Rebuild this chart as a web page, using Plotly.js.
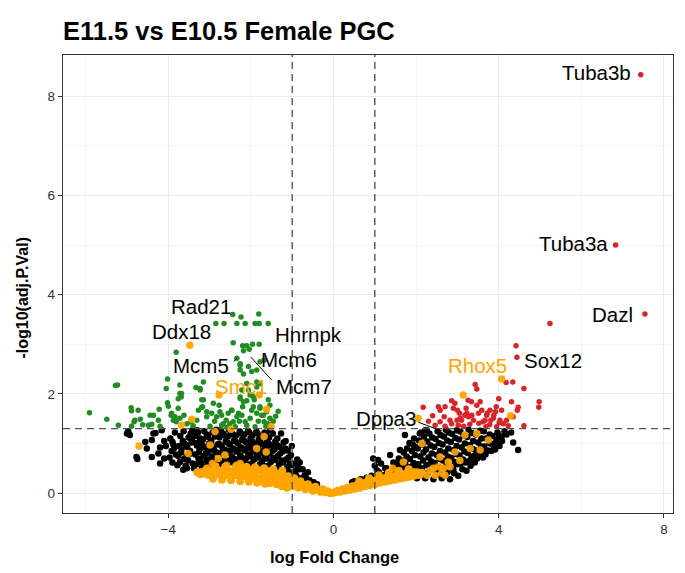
<!DOCTYPE html>
<html><head><meta charset="utf-8">
<script src="https://cdn.plot.ly/plotly-3.0.1.min.js"></script>
<style>html,body{margin:0;padding:0;background:#fff}#plot{width:685px;height:573px}</style>
</head><body><div id="plot"></div>
<script>
// ---- data (log fold change, -log10 adj.P) ----
const blackPts = [
[-5.00,1.20],[-4.97,1.25],[-4.93,1.17],[-4.77,0.73],[-4.75,0.69],[-4.56,1.03],[-4.52,0.90],[-4.40,1.07],[-4.40,0.73],[-4.36,1.20],[-4.31,1.21],[-4.24,0.80],[-4.20,0.60],[-4.20,0.92],[-4.16,1.27],[-4.10,1.05],[-4.06,0.95],[-4.10,0.70],
[-3.97,0.72],[-3.92,0.85],[-3.88,0.98],[-3.95,1.10],[-3.84,1.22],[-3.82,0.78],[-3.90,1.03],[-3.86,0.91],
[-3.78,0.56],[-3.72,0.63],[-3.76,0.75],[-3.68,0.88],[-3.74,0.95],[-3.65,1.05],[-3.71,1.15],[-3.63,1.25],[-3.64,0.47],[-3.62,0.69],[-3.69,0.82],[-3.61,1.00],
[-3.58,0.55],[-3.52,0.66],[-3.56,0.74],[-3.47,0.85],[-3.54,0.93],[-3.44,1.02],[-3.51,1.12],[-3.46,1.20],[-3.42,1.27],[-3.41,0.60],[-3.49,0.79],[-3.57,0.97],[-3.43,1.08],
[-3.38,0.50],[-3.32,0.58],[-3.27,0.70],[-3.35,0.78],[-3.24,0.88],[-3.31,0.96],[-3.22,1.05],[-3.36,1.15],[-3.28,1.22],[-3.21,0.63],[-3.26,0.83],[-3.33,1.01],[-3.23,1.10],[-3.30,1.27],
[-3.18,0.52],[-3.12,0.60],[-3.06,0.68],[-3.15,0.75],[-3.03,0.85],[-3.11,0.92],[-3.01,1.00],[-3.16,1.08],[-3.07,1.18],[-3.13,1.25],[-3.02,0.64],[-3.09,0.80],[-3.17,0.96],[-3.04,1.13],
[-2.98,0.50],[-2.92,0.58],[-2.86,0.66],[-2.95,0.74],[-2.83,0.82],[-2.91,0.90],[-2.81,0.98],[-2.96,1.06],[-2.87,1.14],[-2.93,1.22],[-2.84,1.28],[-2.82,0.62],[-2.89,0.86],[-2.97,1.02],[-2.81,1.18],
[-2.78,0.55],[-2.72,0.63],[-2.66,0.72],[-2.75,0.80],[-2.63,0.88],[-2.71,0.95],[-2.61,1.04],[-2.76,1.12],[-2.67,1.20],[-2.73,1.27],[-2.62,0.67],[-2.69,0.84],[-2.77,0.99],[-2.64,1.16],
[-2.58,0.58],[-2.52,0.66],[-2.46,0.74],[-2.55,0.82],[-2.43,0.90],[-2.51,0.98],[-2.41,1.06],[-2.56,1.14],[-2.47,1.22],[-2.53,1.28],[-2.42,0.70],[-2.49,0.86],[-2.57,1.02],[-2.44,1.18],
[-2.38,0.60],[-2.32,0.68],[-2.26,0.76],[-2.35,0.84],[-2.23,0.92],[-2.31,1.00],[-2.21,1.08],[-2.36,1.16],[-2.27,1.24],[-2.22,0.72],[-2.29,0.88],[-2.37,1.04],[-2.24,1.20],
[-2.18,0.62],[-2.12,0.70],[-2.06,0.78],[-2.15,0.86],[-2.03,0.94],[-2.11,1.02],[-2.01,1.10],[-2.16,1.18],[-2.07,1.26],[-2.02,0.74],[-2.09,0.90],[-2.17,1.06],[-2.04,1.22],
[-1.98,0.60],[-1.92,0.68],[-1.86,0.76],[-1.95,0.84],[-1.83,0.92],[-1.91,1.00],[-1.81,1.08],[-1.96,1.16],[-1.87,1.24],[-1.82,0.72],[-1.89,0.88],[-1.97,1.04],[-1.84,1.20],
[-1.78,0.58],[-1.72,0.66],[-1.66,0.74],[-1.75,0.82],[-1.63,0.90],[-1.71,0.98],[-1.61,1.06],[-1.76,1.14],[-1.67,1.22],[-1.62,0.70],[-1.69,0.86],[-1.77,1.02],[-1.64,1.18],
[-1.58,0.55],[-1.52,0.63],[-1.46,0.71],[-1.55,0.80],[-1.43,0.88],[-1.51,0.96],[-1.41,1.04],[-1.56,1.12],[-1.47,1.20],[-1.53,1.27],[-1.42,0.67],[-1.49,0.84],[-1.57,1.00],
[-1.38,0.50],[-1.32,0.58],[-1.26,0.66],[-1.35,0.75],[-1.23,0.84],[-1.31,0.93],[-1.21,1.02],[-1.36,1.10],[-1.27,1.20],[-1.22,0.62],[-1.29,0.80],[-1.37,0.97],
[-1.18,0.45],[-1.12,0.52],[-1.06,0.60],[-1.15,0.68],[-1.03,0.77],[-1.11,0.86],[-1.01,0.95],[-1.16,1.05],[-1.02,0.56],[-1.09,0.72],[-1.17,0.90],
[-0.98,0.38],[-0.92,0.45],[-0.86,0.52],[-0.95,0.60],[-0.83,0.48],[-0.90,0.35],[-0.88,0.68],[-0.82,0.62],
[-0.78,0.30],[-0.70,0.36],[-0.62,0.42],[-0.66,0.30],[-0.58,0.26],[-0.48,0.22],[-0.40,0.18],
[0.45,0.22],[0.62,0.25],[0.76,0.21],[0.86,0.28],[0.96,0.70],[1.00,0.55],[1.05,0.46],[1.08,0.67],[1.15,0.60],[1.25,0.50],[1.37,0.77],[1.30,0.42],[4.47,0.87],[4.07,1.14],[4.19,1.18],[4.35,1.02],[4.30,1.22],[1.73,1.17],[1.61,0.87],[1.93,0.97],[2.09,1.20],[2.22,1.27],[3.99,1.10],[1.20,0.36],[1.45,0.62],
[0.50,0.24],[0.66,0.28],[0.80,0.31],[0.92,0.35],[1.10,0.42],[1.28,0.50],
[1.42,0.40],[1.48,0.50],[1.55,0.58],[1.58,0.70],[1.52,0.45],
[1.62,0.42],[1.68,0.50],[1.74,0.58],[1.65,0.66],[1.77,0.74],[1.70,0.82],[1.78,0.90],[1.63,0.55],
[1.82,0.45],[1.88,0.53],[1.94,0.61],[1.85,0.69],[1.97,0.77],[1.90,0.85],[1.98,0.93],[1.84,1.01],[1.95,1.10],[1.92,0.48],
[2.02,0.30],[2.08,0.42],[2.14,0.50],[2.05,0.58],[2.17,0.66],[2.10,0.74],[2.18,0.82],[2.04,0.90],[2.15,0.98],[2.07,1.06],[2.19,1.14],[2.12,1.22],
[2.22,0.30],[2.28,0.40],[2.34,0.48],[2.25,0.56],[2.37,0.64],[2.30,0.72],[2.38,0.80],[2.24,0.88],[2.35,0.96],[2.27,1.04],[2.39,1.12],[2.32,1.20],[2.26,1.27],
[2.42,0.28],[2.48,0.45],[2.54,0.53],[2.45,0.61],[2.57,0.69],[2.50,0.77],[2.58,0.85],[2.44,0.93],[2.55,1.01],[2.47,1.09],[2.59,1.17],[2.52,1.25],[2.56,0.38],
[2.62,0.30],[2.68,0.50],[2.74,0.58],[2.65,0.66],[2.77,0.74],[2.70,0.82],[2.78,0.90],[2.64,0.98],[2.75,1.06],[2.67,1.14],[2.79,1.22],[2.72,1.28],[2.76,0.42],
[2.82,0.28],[2.88,0.55],[2.94,0.63],[2.85,0.71],[2.97,0.79],[2.90,0.87],[2.98,0.95],[2.84,1.03],[2.95,1.11],[2.87,1.19],[2.99,1.27],[2.92,0.40],
[3.02,0.35],[3.08,0.60],[3.14,0.68],[3.05,0.76],[3.17,0.84],[3.10,0.92],[3.18,1.00],[3.04,1.08],[3.15,1.16],[3.07,1.24],[3.12,0.48],
[3.22,0.45],[3.28,0.65],[3.34,0.73],[3.25,0.81],[3.37,0.89],[3.30,0.97],[3.38,1.05],[3.24,1.13],[3.35,1.21],[3.27,1.28],[3.32,0.55],
[3.42,0.62],[3.48,0.70],[3.54,0.78],[3.45,0.86],[3.57,0.94],[3.50,1.02],[3.58,1.10],[3.44,1.18],[3.55,1.26],
[3.62,0.72],[3.68,0.78],[3.74,0.86],[3.65,0.94],[3.77,1.02],[3.70,1.10],[3.78,1.18],[3.64,1.25],
[3.82,0.85],[3.88,0.95],[3.94,1.05],[3.85,1.15],[3.97,1.22],[3.91,0.88],
[4.02,0.95],[4.08,1.05],[4.14,1.25],
[1.72,0.38],[1.88,0.36],[2.00,0.52],[2.20,0.36],[2.33,0.58],[2.46,0.50],[2.60,0.45],[2.72,0.36],[2.90,0.48],[3.00,0.58],[3.20,0.62],[3.40,0.75],[3.60,0.88],[3.80,1.00],[4.00,1.15],
[-3.90,0.62],[-3.55,0.50],[-3.20,0.45],[-2.45,0.62],[-2.10,0.58],[-1.70,0.55],[-1.30,0.45],[-1.05,0.42],[-0.75,0.48]
];
const greenPts = [
[-2.44,3.60],[-2.24,3.55],[-1.81,3.61],[-2.85,3.42],[-2.65,3.42],[-2.34,3.42],[-2.14,3.42],[-1.90,3.42],[-1.80,3.42],[-1.58,3.42],
[-2.43,3.03],[-2.20,2.97],[-2.10,2.97],[-1.96,3.00],[-1.80,3.00],[-2.04,2.90],[-2.18,2.87],
[-3.81,2.84],[-2.34,2.72],[-2.26,2.61],[-1.78,2.65],[-1.68,2.68],[-2.26,2.48],[-2.18,2.40],
[-4.02,2.30],[-3.15,2.24],[-3.33,2.13],[-5.28,2.17],[-5.23,2.18],[-2.10,2.21],[-2.22,2.08],[-2.06,2.08],[-1.86,2.14],
[-3.72,2.01],[-3.69,1.94],[-3.76,1.90],[-2.26,1.91],[-2.10,1.86],[-1.94,1.94],[-4.02,1.82],[-4.00,1.75],[-5.91,1.62],
[-4.90,1.72],[-4.89,1.66],[-4.73,1.67],[-4.22,1.69],[-3.92,1.61],[-3.84,1.54],[-3.88,1.47],[-3.72,1.51],
[-3.19,1.73],[-2.95,1.61],[-2.83,1.54],[-5.21,1.37],[-4.81,1.47],[-4.68,1.49],[-4.48,1.37],[-4.40,1.39],[-4.24,1.47],[-4.20,1.35],[-4.89,1.35],
[-1.34,1.65],[-5.49,1.49],[-4.83,1.44],[-4.62,1.38],[-4.44,1.57],[-4.36,1.57],[-3.93,1.57],[-3.81,1.44],[-3.76,1.71],[-3.62,1.57],[-3.46,1.44],[-3.31,1.47],[-3.17,1.74],[-3.07,1.64],
[-2.77,1.77],[-2.75,1.64],[-2.67,1.40],[-2.60,1.47],[-2.55,1.61],[-2.47,1.67],[-2.43,1.44],[-2.34,1.54],[-2.22,1.57],[-2.14,1.44],[-2.02,1.51],[-1.98,1.67],[-1.94,1.74],[-1.86,1.61],[-1.78,1.71],[-1.74,1.57],[-1.68,1.44],[-1.62,1.64],[-1.54,1.77],[-2.20,1.74],[-1.92,1.88],[-1.98,1.98],[-2.26,1.94],
[-2.99,1.35],[-2.71,1.37],[-2.51,1.40],[-2.10,1.37],[-1.90,1.34],[-1.58,1.40],
[-2.26,2.58],[-2.06,2.55],[-1.98,2.45],[-1.86,2.48],[-1.86,2.24],[-1.78,2.21],[-2.02,1.98],[-2.18,1.84],[-2.46,1.67],[-2.30,1.61],[-1.78,1.74],[-1.70,1.57],[-1.58,1.88],[-1.54,1.51],[-2.71,1.57],[-2.91,1.81],[-3.07,1.54],[-3.19,1.88],[-3.23,2.08],
[-4.05,2.11],[-3.72,2.18],[-3.68,2.01],[-3.23,2.11],[-3.15,1.88],[-3.27,1.67],
[-2.38,1.34],[-2.28,1.45],[-1.82,1.45],[-1.64,1.35],[-1.46,1.45],[-1.40,1.55],[-2.58,1.33],[-2.88,1.45],[-3.40,1.36],[-3.55,1.40]
];
const redPts = [
[7.44,8.43],[6.83,5.00],[7.54,3.61],[5.24,3.42],[4.42,2.97],[4.44,2.74],
[4.18,2.23],[4.34,2.24],[4.61,2.11],[3.43,2.19],[3.47,2.10],[4.98,1.84],[4.97,1.73],[2.17,1.73],
[2.54,1.74],[2.58,1.67],[2.70,1.74],[2.68,1.54],[2.86,1.86],[2.94,1.81],[3.00,1.67],[3.05,1.61],[2.99,1.47],[3.07,1.51],[3.21,1.71],[3.23,1.61],[3.27,1.54],[3.35,1.57],[3.39,1.47],[3.47,1.77],[3.51,1.61],[3.55,1.84],[3.59,1.67],[3.67,1.47],[3.71,1.57],[3.81,1.47],[3.88,1.57],[3.92,1.64],[3.94,1.74],[4.00,1.90],[4.03,1.47],[4.11,1.40],[4.23,1.36],[4.31,1.84],[4.35,1.54],[4.45,1.67],[4.61,1.36],
[2.82,1.47],[2.90,1.71],[3.10,1.47],[3.18,1.57],[3.26,1.87],[3.34,1.84],[3.72,1.61],[3.79,1.67],[3.87,1.51],[4.07,1.67],[4.01,1.42],[4.19,1.47],[4.47,1.73],[3.95,1.34],[3.69,1.34],
[2.46,1.37],[2.58,1.44],[2.70,1.35],[2.86,1.40],[2.30,1.45],[2.40,1.56],[3.02,1.37],[3.15,1.35],[3.30,1.39],[3.52,1.41],[3.62,1.44],[3.78,1.38]
];
const orangeBandPts = [
[-3.30,0.42],[-3.22,0.38],[-3.12,0.44],[-3.05,0.37],[-2.96,0.45],[-2.90,0.36],[-2.82,0.47],[-2.76,0.38],[-2.68,0.46],[-2.60,0.36],[-2.54,0.45],[-2.46,0.35],[-2.40,0.46],[-2.33,0.36],[-2.26,0.47],[-2.20,0.34],[-2.14,0.44],[-2.08,0.33],[-2.02,0.46],[-1.96,0.32],[-1.90,0.42],[-1.84,0.30],[-1.78,0.46],[-1.72,0.29],[-1.68,0.38],[-1.62,0.27],[-1.56,0.44],[-1.52,0.35],[-1.46,0.25],[-1.40,0.40],[-1.35,0.31],[-1.30,0.21],[-1.25,0.37],[-1.20,0.28],[-1.15,0.17],[-1.10,0.34],[-1.05,0.24],[-1.00,0.14],[-0.95,0.30],[-0.90,0.20],[-0.85,0.11],[-0.80,0.24],[-0.74,0.16],[-0.68,0.08],[-0.62,0.18],[-0.56,0.11],[-0.50,0.05],[-0.44,0.13],[-0.38,0.07],[-0.32,0.03],[-0.26,0.08],[-0.20,0.02],[-0.14,0.04],[-0.08,0.00],[-0.02,0.01],
[-1.12,0.11],[-1.25,0.14],[-1.38,0.18],[-1.55,0.20],
[-2.92,0.29],[-2.70,0.27],[-2.48,0.26],[-2.26,0.24],[-2.05,0.23],[-1.85,0.21],[-1.66,0.19],
[-2.86,0.54],[-2.62,0.53],[-2.36,0.54],[-2.12,0.52],[-1.90,0.52],[-1.68,0.50],[-1.46,0.48],[-1.24,0.45],
[0.04,0.02],[0.10,0.05],[0.16,0.03],[0.22,0.08],[0.28,0.05],[0.34,0.11],[0.40,0.07],[0.46,0.14],[0.52,0.09],[0.58,0.17],[0.64,0.11],[0.70,0.20],[0.76,0.14],[0.82,0.23],[0.88,0.16],[0.94,0.25],[1.00,0.18],[1.06,0.28],[1.12,0.21],[1.18,0.30],[1.24,0.23],[1.30,0.32],[1.36,0.25],[1.42,0.34],[1.48,0.27],[1.54,0.37],[1.60,0.29],[1.66,0.38],[1.72,0.31],[1.78,0.40],[1.84,0.33],[1.90,0.41],[1.96,0.35],[2.02,0.42],[2.08,0.37],[2.14,0.41],
[0.62,0.24],[0.86,0.30],[1.10,0.36],[1.34,0.41],[1.58,0.45],[1.82,0.48]
];
const orangeHitPts = [
[-3.48,2.98],[-2.77,1.98],[-1.80,1.98],[-1.62,1.69],[-3.43,1.49],[-3.68,1.37],[-2.48,1.29],[-2.87,1.24],[-1.51,1.34],[-1.68,1.14],[-4.71,0.95],[-3.52,0.80],[-2.99,0.97],[-2.79,0.70],[-2.63,0.77],[-2.93,0.60],[-2.59,0.56],[-2.34,0.56],[-2.10,0.53],[-1.86,0.90],[-1.63,0.83],[-3.19,0.43],[-3.07,0.50],[-2.26,0.60],
[3.14,1.98],[2.05,1.51],[4.29,1.56],[2.14,1.00],[3.18,1.17],[3.47,1.20],[3.75,1.07],[2.94,0.83],[2.58,0.73],[3.31,0.90],[3.55,0.87],[1.69,0.63],[1.43,0.50],[2.78,0.63],[2.82,0.53],[2.54,0.53],[2.34,0.46],[1.93,0.43],[2.09,0.36],[2.46,0.36],[2.26,0.36],[2.62,0.40],[4.07,2.30],[3.06,0.66],[2.66,0.50],[2.42,0.50],[2.70,0.36]
];
const geneNames = ['Tuba3b','Tuba3a','Dazl','Sox12','Rhox5','Dppa3','Rad21','Ddx18','Mcm5','Smc1','Hnrnpk','Mcm6','Mcm7'];
const geneLFC   = [7.44,6.83,7.54,4.44,4.07,2.63,-2.44,-3.48,-2.34,-1.80,-1.80,-1.68,-2.00];
const geneLogP  = [8.43,5.00,3.61,2.74,2.30,1.25,3.60,2.98,2.72,1.98,3.00,2.68,2.74];
const geneHit   = [false,false,false,false,true,false,false,false,false,true,false,false,false];
const fcCut = 1, pCut = 1.301;
const xTicks = [-4,0,4,8];
const yTicks = [0,2,4,6,8];

// ---- styles ----
const SANS = '"Liberation Sans",Arial,sans-serif';
const labelOffset = { // pixel offsets of text centre from point
 Tuba3b:[-44.7,2], Tuba3a:[-41.7,2], Dazl:[-32,0], Sox12:[36,-3], Rhox5:[-24,14], Dppa3:[-56,13],
 Rad21:[-31.7,7.6], Ddx18:[-8,13.3], Mcm5:[-35.6,-7.5], Smc1:[-18,8.5], Hnrnpk:[49,10], Mcm6:[25,1], Mcm7:[52.6,-29]
};
const segments = {Mcm5:[-4.6,5], Mcm7:[22.4,24.6], Dppa3:[-25.4,-9.5]};

function trace(pts,color,size,op){
  return {type:'scatter',mode:'markers',x:pts.map(p=>p[0]),y:pts.map(p=>p[1]),
    marker:{color:color,size:size,opacity:op,line:{width:0}},hoverinfo:'skip',showlegend:false};
}
const data = [
  trace(blackPts,'#000000',6.5,1),
  trace(greenPts,'#228B22',5.5,1),
  trace(redPts,'#D7262B',5.5,1),
  trace(orangeBandPts,'#FFA500',8,1),
  trace(orangeHitPts,'#FFA500',7.5,0.92)
];

const annotations = [];
geneNames.forEach((g,i)=>{
  const off = labelOffset[g];
  annotations.push({x:geneLFC[i],y:geneLogP[i],xref:'x',yref:'y',text:g,showarrow:false,
    xshift:off[0],yshift:off[1],xanchor:'center',yanchor:'middle',
    font:{family:SANS,size:20.5,color:geneHit[i]?'#FFA500':'#000000'}});
  if(segments[g]){
    annotations.push({x:geneLFC[i],y:geneLogP[i],xref:'x',yref:'y',text:' ',showarrow:true,
      arrowhead:0,arrowwidth:1,arrowcolor:'#000',standoff:0,startstandoff:0,
      ax:segments[g][0],ay:segments[g][1],font:{size:1}});
  }
});
annotations.push({xref:'paper',yref:'paper',x:(334-63)/610,y:(513-557)/458,text:'<b>log Fold Change</b>',
  showarrow:false,xanchor:'center',yanchor:'middle',font:{family:SANS,size:16.5,color:'#000'}});
annotations.push({xref:'paper',yref:'paper',x:(22-63)/610,y:(513-297.5)/458,text:'<b>-log10(adj.P.Val)</b>',
  showarrow:false,textangle:-90,xanchor:'center',yanchor:'middle',font:{family:SANS,size:16,color:'#000'}});

const dashLine = {color:'#555555',width:1.4,dash:'7px,5px'};
const shapes = [
  {type:'line',xref:'x',yref:'paper',x0:-fcCut,x1:-fcCut,y0:0,y1:1,line:dashLine,layer:'above'},
  {type:'line',xref:'x',yref:'paper',x0:fcCut,x1:fcCut,y0:0,y1:1,line:dashLine,layer:'above'},
  {type:'line',xref:'paper',yref:'y',x0:0,x1:1,y0:pCut,y1:pCut,line:dashLine,layer:'above'}
];

const axisCommon = {showgrid:true,gridcolor:'#EBEBEB',gridwidth:1.1,zeroline:false,
  showline:true,mirror:true,linecolor:'#333333',linewidth:1.2,
  ticks:'outside',ticklen:4,tickwidth:1.1,tickcolor:'#333333',
  tickfont:{family:SANS,size:13.5,color:'#333333'}};

const layout = {
  width:685,height:573,paper_bgcolor:'#fff',plot_bgcolor:'#fff',
  margin:{l:63,r:12,t:55,b:60},
  title:{text:'<b>E11.5 vs E10.5 Female PGC</b>',font:{family:SANS,size:25.5,color:'#000'},
    xref:'container',x:63/685,xanchor:'left',yref:'container',y:1-31/573,yanchor:'middle'},
  xaxis:Object.assign({},axisCommon,{range:[-6.55,8.22],tickvals:xTicks,
    minor:{tickvals:[-6,-2,2,6],showgrid:true,gridcolor:'#F2F2F2',gridwidth:0.8,ticks:''}}),
  yaxis:Object.assign({},axisCommon,{range:[-0.40,8.83],tickvals:yTicks,
    minor:{tickvals:[1,3,5,7],showgrid:true,gridcolor:'#F2F2F2',gridwidth:0.8,ticks:''}}),
  shapes:shapes,annotations:annotations
};
Plotly.newPlot('plot',data,layout,{staticPlot:true,displayModeBar:false});
</script></body></html>
